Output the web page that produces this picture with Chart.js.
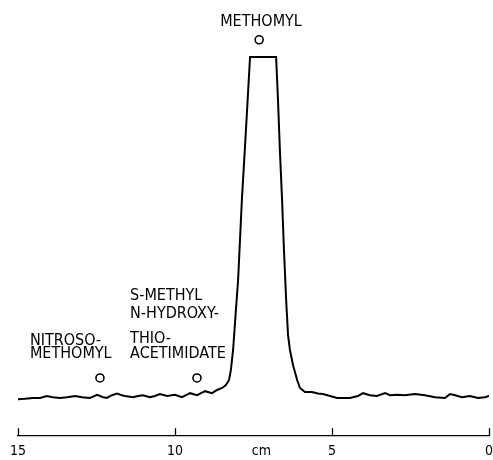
<!DOCTYPE html>
<html>
<head>
<meta charset="utf-8">
<script src="https://cdn.jsdelivr.net/npm/chart.js@4"></script>
<style>
  html, body { margin: 0; padding: 0; background: #fff; }
  #wrap { width: 493px; height: 460px; }
</style>
</head>
<body>
<div id="wrap"><canvas id="chart"></canvas></div>
<script>
// Chromatogram trace (distance in cm, detector response in arbitrary units)
const distanceCm = [
    15.00, 14.78, 14.52, 14.30, 14.08, 13.89, 13.66, 13.44, 13.18, 12.96,
    12.71, 12.48, 12.29, 12.17, 12.01, 11.85, 11.69, 11.59, 11.34, 11.18,
    11.02, 10.80, 10.64, 10.48, 10.25, 10.00, 9.78, 9.65, 9.52, 9.30,
    9.17, 9.04, 8.82, 8.66, 8.50, 8.38, 8.28, 8.22, 8.15, 8.06,
    7.99, 7.87, 7.74, 7.61, 6.78, 6.72, 6.66, 6.59, 6.53, 6.46,
    6.40, 6.34, 6.24, 6.11, 6.02, 5.86, 5.64, 5.45, 5.29, 5.06,
    4.84, 4.43, 4.17, 4.01, 3.79, 3.57, 3.31, 3.15, 2.93, 2.68,
    2.36, 2.04, 1.72, 1.40, 1.24, 1.08, 0.86, 0.61, 0.35, 0.13, 0.00
];
const response = [
    9.0, 9.1, 9.3, 9.3, 9.8, 9.5, 9.3, 9.5, 9.8, 9.5,
    9.3, 10.1, 9.5, 9.3, 10.0, 10.4, 10.0, 9.8, 9.5, 9.8,
    10.0, 9.5, 9.8, 10.3, 9.8, 10.1, 9.5, 10.0, 10.5, 10.0,
    10.5, 11.0, 10.5, 11.3, 11.8, 12.5, 13.8, 16.3, 21.3, 31.3,
    38.8, 58.8, 76.3, 94.5, 94.5, 83.8, 71.3, 58.8, 46.3, 33.8,
    25.0, 21.3, 17.5, 13.8, 11.8, 10.8, 10.8, 10.4, 10.3, 9.8,
    9.3, 9.3, 9.8, 10.5, 10.0, 9.8, 10.5, 10.0, 10.1, 10.0,
    10.3, 10.0, 9.5, 9.3, 10.3, 10.0, 9.5, 9.8, 9.3, 9.5, 9.8
];
const tickValues = [15, 10, 7.25, 5, 0];
const tickLabels = ["15", "10", "cm", "5", "0"];

// Peak labels: text lines + where the marker circle sits
const peakNames = ["METHOMYL", "NITROSO-\nMETHOMYL", "S-METHYL\nN-HYDROXY-\nTHIO-\nACETIMIDATE"];
const peakMarks = [
    { text: [7.26, [103.3]], circle: [7.32, 98.8], align: "center" },
    { text: [14.62, [23.5, 20.3]], circle: [12.39, 14.3], align: "left" },
    { text: [11.43, [34.8, 30.3, 24.0, 20.3]], circle: [9.30, 14.3], align: "left" }
];

const labelFont = '16px "Liberation Sans Narrow", "DejaVu Sans Condensed", "Liberation Sans", sans-serif';

const annotate = {
    id: "annotate",
    afterDraw(chart) {
        const ctx = chart.ctx;
        const xs = chart.scales.x, ys = chart.scales.y;
        ctx.save();
        ctx.strokeStyle = "#000";
        ctx.fillStyle = "#000";

        // small upward tick marks on the cm axis
        ctx.lineWidth = 1.3;
        const yb = chart.chartArea.bottom;
        tickValues.forEach((v, i) => {
            if (tickLabels[i] === "cm") return;
            const px = Math.round(xs.getPixelForValue(v)) + 0.5;
            ctx.beginPath();
            ctx.moveTo(px, yb);
            ctx.lineTo(px, yb - 7);
            ctx.stroke();
        });

        // peak names and circles
        ctx.font = labelFont;
        ctx.textBaseline = "middle";
        peakNames.forEach((name, i) => {
            const m = peakMarks[i];
            ctx.textAlign = m.align;
            const px = xs.getPixelForValue(m.text[0]);
            name.split("\n").forEach((line, j) => {
                ctx.fillText(line, px, ys.getPixelForValue(m.text[1][j]));
            });
            ctx.lineWidth = 1.6;
            ctx.beginPath();
            ctx.arc(xs.getPixelForValue(m.circle[0]), ys.getPixelForValue(m.circle[1]), 4, 0, Math.PI * 2);
            ctx.stroke();
        });
        ctx.restore();
    }
};

new Chart(document.getElementById("chart"), {
    type: "line",
    data: {
        datasets: [{
            data: distanceCm.map((d, i) => ({ x: d, y: response[i] })),
            borderColor: "#000",
            borderWidth: 2,
            pointRadius: 0,
            tension: 0,
            fill: false
        }]
    },
    options: {
        responsive: true,
        maintainAspectRatio: false,
        animation: false,
        layout: { padding: { left: 18, right: 4, top: 35, bottom: -8 } },
        plugins: { legend: { display: false }, tooltip: { enabled: false } },
        scales: {
            x: {
                type: "linear",
                reverse: true,
                min: 0,
                max: 15,
                afterBuildTicks: (scale) => {
                    scale.ticks = tickValues.map(v => ({ value: v }));
                },
                // don't let the end labels push the axis inward
                afterFit: (scale) => {
                    scale.paddingLeft = 0;
                    scale.paddingRight = 0;
                },
                grid: { display: false, drawTicks: false },
                border: { display: true, color: "#000", width: 1.3 },
                ticks: {
                    autoSkip: false,
                    maxRotation: 0,
                    padding: 8,
                    color: "#000",
                    font: { family: '"Liberation Sans Narrow", "DejaVu Sans Condensed", sans-serif', size: 14 },
                    callback: (v) => tickLabels[tickValues.indexOf(v)]
                }
            },
            y: { display: false, min: 0, max: 100 }
        }
    },
    plugins: [annotate]
});
</script>
</body>
</html>
